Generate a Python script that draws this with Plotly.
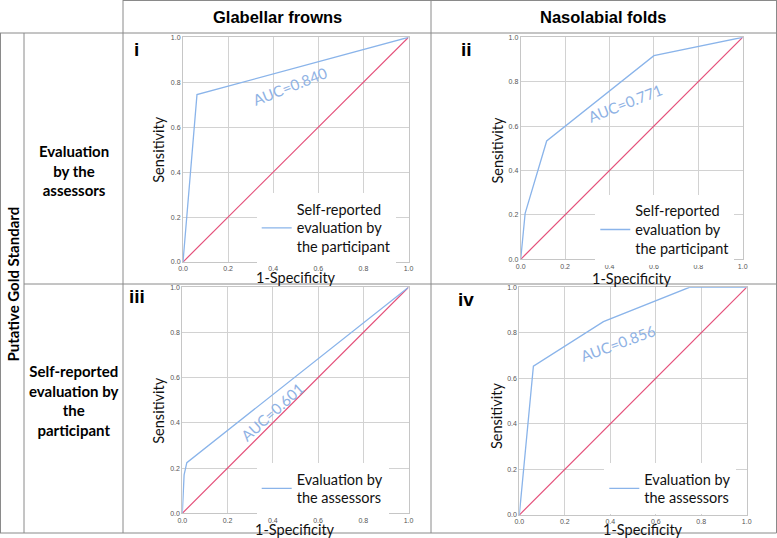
import plotly.graph_objects as go

W, H = 777, 538

# ---------------- data ----------------
col_headers = ["Glabellar frowns", "Nasolabial folds"]
row_headers = ["Evaluation<br>by the<br>assessors",
               "Self-reported<br>evaluation by<br>the<br>participant"]
side_header = "Putative Gold Standard"
panel_tags = ["i", "ii", "iii", "iv"]
legend_names = ["Self-reported<br>evaluation by<br>the participant",
                "Self-reported<br>evaluation by<br>the participant",
                "Evaluation by<br>the assessors",
                "Evaluation by<br>the assessors"]
auc_labels = ["AUC=0.840", "AUC=0.771", "AUC=0.601", "AUC=0.856"]

fpr_i = [0, 0.062, 1]
sens_i = [0, 0.745, 1]
fpr_ii = [0, 0.02, 0.117, 0.6, 1]
sens_ii = [0, 0.207, 0.533, 0.917, 1]
fpr_iii = [0, 0.008, 0.02, 1]
sens_iii = [0, 0.17, 0.224, 1]
fpr_iv = [0, 0.062, 0.37, 0.748, 1]
sens_iv = [0, 0.654, 0.849, 1, 1]

ref_x = [0, 1]
ref_y = [0, 1]

tick_vals = [0, 0.2, 0.4, 0.6, 0.8, 1.0]
tick_text = ["0.0", "0.2", "0.4", "0.6", "0.8", "1.0"]

curves = [(fpr_i, sens_i), (fpr_ii, sens_ii), (fpr_iii, sens_iii), (fpr_iv, sens_iv)]

# ---------------- layout geometry (pixels) ----------------
def px(x):
    return x / W

def py(y):
    return 1 - y / H

# plot areas: (left, right, top, bottom) in pixels
areas = [(183, 408.5, 37.3, 262),
         (520.7, 742.7, 37.3, 259.3),
         (182.3, 408.5, 287.3, 513.3),
         (519.3, 746.7, 287.3, 515)]
# AUC label positions (data) and angles
auc_pos = [(0.476, 0.782, -21.5), (0.47, 0.705, -21.5), (0.396, 0.45, -42), (0.435, 0.754, -20)]
# legend text left / first line centre (pixels)
legend_px = [(296.7, 205), (635.3, 206.7), (296.7, 475), (644.3, 475)]
# axis title centres (pixels)
xtitle_px = [(296, 277), (632, 278), (295, 529), (643, 529)]
ytitle_px = [(157.7, 150), (496.5, 151), (157.7, 411), (496, 416)]
tag_px = [(132, 49), (459, 49), (127, 297), (456, 299)]

BLUE = "#8ab4ea"
RED = "#e4507a"
AUCCOL = "#8fb2e4"
FONT = "Lato, 'Noto Sans', sans-serif"
ARIAL = "'Liberation Sans', Arial, sans-serif"

fig = go.Figure()

for k, (fx, sy) in enumerate(curves):
    sfx = "" if k == 0 else str(k + 1)
    fig.add_trace(go.Scatter(x=ref_x, y=ref_y, mode="lines",
                             line=dict(color=RED, width=1.2),
                             xaxis="x" + sfx, yaxis="y" + sfx,
                             showlegend=False, hoverinfo="skip"))
    fig.add_trace(go.Scatter(x=fx, y=sy, mode="lines",
                             line=dict(color=BLUE, width=1.3),
                             name=legend_names[k],
                             xaxis="x" + sfx, yaxis="y" + sfx,
                             legend="legend" + sfx, showlegend=True))

layout = dict(width=W, height=H, margin=dict(l=0, r=0, t=0, b=0, autoexpand=False),
              paper_bgcolor="white", plot_bgcolor="white",
              font=dict(family=FONT, color="black"))

axis_common = dict(range=[0, 1], tickvals=tick_vals, ticktext=tick_text,
                   showgrid=True, gridcolor="#d2d2d2", gridwidth=1,
                   showline=True, linecolor="#c6c6c6", linewidth=1, mirror=True,
                   zeroline=False, ticks="", automargin=False,
                   tickfont=dict(family=ARIAL, size=7, color="#555555"),
                   fixedrange=True)

def ann(x, y, text, font, angle=0, xanchor="center", xref="paper", yref="paper"):
    return dict(x=x, y=y, xref=xref, yref=yref, text=text, showarrow=False,
                textangle=angle, xanchor=xanchor, yanchor="middle", font=font)

annotations = []
shapes = []
for k, (l, r, t, b) in enumerate(areas):
    sfx = "" if k == 0 else str(k + 1)
    layout["xaxis" + sfx] = dict(axis_common, domain=[px(l), px(r)], anchor="y" + sfx)
    layout["yaxis" + sfx] = dict(axis_common, domain=[py(b), py(t)], anchor="x" + sfx)
    tx, ty = legend_px[k]
    layout["legend" + sfx] = dict(x=px(tx - 40), y=py(ty - 12), xanchor="left", yanchor="top",
                                  bgcolor="white", borderwidth=0,
                                  font=dict(family=FONT, size=14.5, color="#111111"),
                                  itemwidth=30, valign="middle")
    ax, ay, ang = auc_pos[k]
    annotations.append(ann(ax, ay, auc_labels[k], dict(family=FONT, size=15, color=AUCCOL),
                           angle=ang, xref="x" + sfx, yref="y" + sfx))
    xx, xy = xtitle_px[k]
    annotations.append(ann(px(xx), py(xy), "1-Specificity", dict(family=FONT, size=14.5, color="#111111")))
    yx, yy = ytitle_px[k]
    annotations.append(ann(px(yx), py(yy), "Sensitivity", dict(family=FONT, size=14.5, color="#111111"), angle=-90))
    gx, gy = tag_px[k]
    annotations.append(ann(px(gx), py(gy), "<b>%s</b>" % panel_tags[k],
                           dict(family=ARIAL, size=19, color="black"), xanchor="left"))

# column & row headers
annotations.append(ann(px(277), py(17), "<b>%s</b>" % col_headers[0], dict(family=ARIAL, size=16.5, color="black")))
annotations.append(ann(px(603.5), py(17), "<b>%s</b>" % col_headers[1], dict(family=ARIAL, size=16.5, color="black")))
annotations.append(ann(px(73.5), py(171), "<b>%s</b>" % row_headers[0], dict(family=FONT, size=15, color="black")))
annotations.append(ann(px(73.5), py(400), "<b>%s</b>" % row_headers[1], dict(family=FONT, size=15, color="black")))
annotations.append(ann(px(12.5), py(284), "<b>%s</b>" % side_header, dict(family=FONT, size=15, color="black"), angle=-90))

# table lines
LINE = dict(color="#8a8a8a", width=1)
def hline(y, x0, x1):
    shapes.append(dict(type="line", xref="paper", yref="paper", x0=px(x0), x1=px(x1), y0=py(y), y1=py(y), line=LINE))
def vline(x, y0, y1):
    shapes.append(dict(type="line", xref="paper", yref="paper", x0=px(x), x1=px(x), y0=py(y0), y1=py(y1), line=LINE))

hline(0.5, 123, 776.5)
hline(33, 0, 776.5)
hline(284, 24, 776.5)
hline(533, 0, 776.5)
vline(0.5, 33, 533)
vline(24, 33, 533)
vline(123, 0, 533)
vline(431, 0, 533)
vline(776.5, 0, 533)

layout["annotations"] = annotations
layout["shapes"] = shapes
fig.update_layout(**layout)

fig.write_html("out.html", config={"displayModeBar": False},
               post_script="document.body.style.margin='0';document.body.style.overflow='hidden';")
